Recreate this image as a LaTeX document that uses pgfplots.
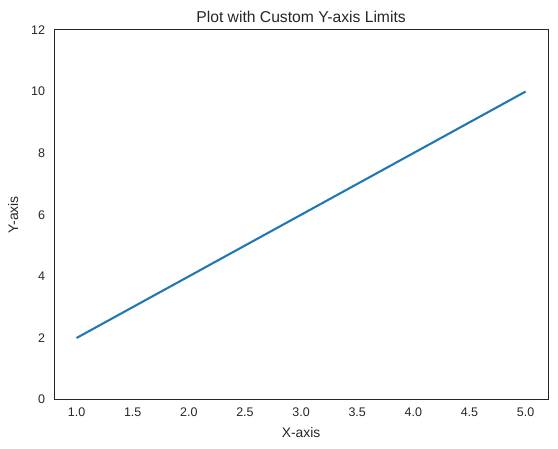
\documentclass[border=0pt]{standalone}
\usepackage{pgfplots}
\pgfplotsset{compat=1.18}
\usepackage{fontspec}
\setmainfont{Liberation Sans}
\definecolor{mplblue}{HTML}{1F77B4}
\definecolor{inkgray}{HTML}{262626}
\begin{document}
\begin{tikzpicture}
\begin{axis}[
  scale only axis,
  width=356pt, height=266.4pt,
  xmin=0.8, xmax=5.2,
  ymin=0, ymax=12,
  xtick={1,1.5,...,5},
  ytick={0,2,...,12},
  x tick label style={/pgf/number format/fixed,/pgf/number format/fixed zerofill,/pgf/number format/precision=1},
  /pgf/number format/assume math mode=true,
  tick style={draw=none},
  major tick length=0pt,
  axis line style={draw=inkgray, line width=0.7pt},
  every tick label/.append style={font=\fontsize{9}{11}\selectfont, text=inkgray},
  x tick label style={yshift=-2.5pt},
  y tick label style={xshift=-3pt},
  title={Plot with Custom Y-axis Limits},
  title style={font=\fontsize{11.3}{13}\selectfont, text=inkgray, yshift=-4.6pt},
  xlabel={X-axis}, ylabel={Y-axis},
  label style={font=\fontsize{10}{12}\selectfont, text=inkgray},
  xlabel style={yshift=-0.6pt},
  ylabel style={yshift=2.5pt},
]
\addplot[mplblue, line width=1.5pt] coordinates {(1,2) (2,4) (3,6) (4,8) (5,10)};
\end{axis}
\pgfresetboundingbox
\path (current axis.south west) ++(-39pt,-35.3pt) coordinate (bbsw);
\path (current axis.north east) ++(7.2pt,21.6pt) coordinate (bbne);
\useasboundingbox (bbsw) rectangle (bbne);
\end{tikzpicture}
\end{document}
